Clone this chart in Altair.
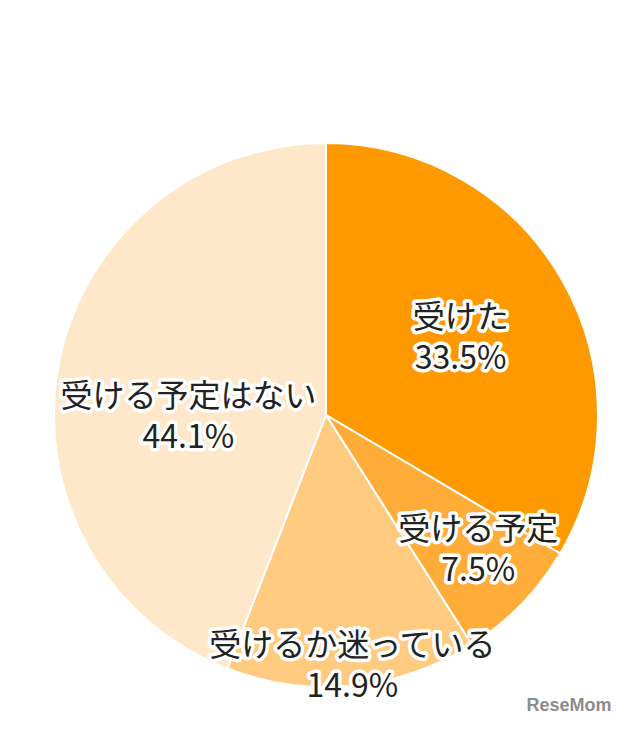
import altair as alt
import pandas as pd

categories = ["受けた", "受ける予定", "受けるか迷っている", "受ける予定はない"]
values = [33.5, 7.5, 14.9, 44.1]
pct_labels = ["33.5%", "7.5%", "14.9%", "44.1%"]
colors = ["#FF9900", "#FFAC38", "#FFCB80", "#FFE8C9"]

df = pd.DataFrame({
    "cat": categories,
    "val": values,
    "pct": pct_labels,
    "order": list(range(len(categories))),
})

CX, CY, R = 318, 407, 272
FONT = "Noto Sans CJK JP"

base = alt.Chart(df)

pie = base.mark_arc(radius=R, stroke="white", strokeWidth=2).encode(
    theta=alt.Theta("val:Q", stack=True),
    color=alt.Color("cat:N", scale=alt.Scale(domain=categories, range=colors), legend=None),
    order=alt.Order("order:Q"),
    x=alt.value(CX),
    y=alt.value(CY),
)

lab_base = base.transform_window(
    cum="sum(val)", sort=[{"field": "order"}]
).transform_calculate(
    mid="datum.cum - datum.val / 2",
    label="datum.cat + '\\n' + datum.pct",
)

# per-label radius and offset (styling)
label_style = {
    "受けた": (155, 0, -20),
    "受ける予定": (205, 5, -28),
    "受けるか迷っている": (251, 2, -19),
    "受ける予定はない": (140, 0, 8),
}

layers = [pie]
for cat in categories:
    r, dx, dy = label_style[cat]
    common = dict(radius=r, dx=dx, dy=dy, font=FONT, fontSize=32, lineBreak="\n",
                  lineHeight=41, align="center", baseline="middle", fontWeight="normal")
    enc = dict(
        theta=alt.Theta("mid:Q", scale=alt.Scale(domain=[0, 100], range=[0, 6.283185307])),
        text="label:N",
        x=alt.value(CX),
        y=alt.value(CY),
    )
    filt = lab_base.transform_filter(alt.datum.cat == cat)
    halo = filt.mark_text(stroke="white", strokeWidth=7, strokeJoin="round", fill="white", **common).encode(**enc)
    txt = filt.mark_text(fill="#222222", **common).encode(**enc)
    layers += [halo, txt]

wm = alt.Chart(pd.DataFrame({"t": ["ReseMom"]})).mark_text(
    font="Liberation Sans", fontSize=18, fontWeight="bold", fill="#8c8c8c",
    align="center", baseline="middle"
).encode(text="t:N", x=alt.value(561), y=alt.value(698))
layers.append(wm)

chart = alt.layer(*layers).properties(
    width=624, height=714, autosize=alt.AutoSizeParams(type="none"), padding=0
).configure_view(stroke=None)

chart.save("out.html", embed_options={"renderer": "svg", "actions": False})
